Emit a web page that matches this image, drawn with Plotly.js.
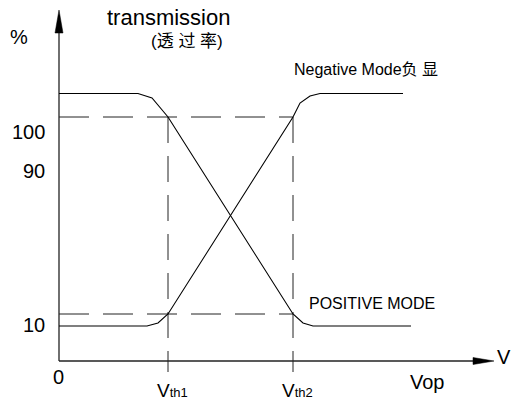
<!DOCTYPE html>
<html><head><meta charset="utf-8">
<script src="https://cdn.plot.ly/plotly-3.0.1.min.js"></script>
<style>html,body{margin:0;padding:0;background:#fff}#chart{width:511px;height:401px}</style>
</head><body><div id="chart"></div>
<script>
// Schematic drawing units: x = operating voltage from origin, y = transmission from the V axis
const negativeModeX = [0, 88, 99, 109, 234, 241, 251, 261, 344];
const negativeModeY = [35, 35, 38, 47, 244, 258, 265, 267.5, 267.5];
const positiveModeX = [0, 79, 93, 109, 234, 244, 254, 352];
const positiveModeY = [267.5, 267.5, 263, 244, 47, 38, 35, 35];
const thresholdX = [109, 234];            // Vth1, Vth2
const thresholdSub = ['th1', 'th2'];
const levelY = [244, 47];                 // 100 % and 10 % reference levels
const yTickVals = [229, 190, 36];
const yTickText = ['100', '90', '10'];

const AX_Y_TOP = 351, AX_Y_BASE = 328, AX_X_TIP = 435, AX_X_BASE = 414;
const DASH_BOTTOM = -11;
const FONT = 'Liberation Sans, Arial, "Noto Sans CJK SC", sans-serif';

const traces = [];
// axes
traces.push({x:[0,0], y:[0,AX_Y_BASE], mode:'lines', line:{color:'#222', width:1.3}, hoverinfo:'skip'});
traces.push({x:[0,AX_X_BASE], y:[0,0], mode:'lines', line:{color:'#222', width:1.3}, hoverinfo:'skip'});
traces.push({x:[-4,0,4,-4], y:[AX_Y_BASE,AX_Y_TOP,AX_Y_BASE,AX_Y_BASE], mode:'lines', fill:'toself', fillcolor:'#000', line:{color:'#000', width:0.5}, hoverinfo:'skip'});
traces.push({x:[AX_X_BASE,AX_X_TIP,AX_X_BASE,AX_X_BASE], y:[3.5,0,-3.5,3.5], mode:'lines', fill:'toself', fillcolor:'#000', line:{color:'#000', width:0.5}, hoverinfo:'skip'});
// reference dashed lines
levelY.forEach(v => traces.push({x:[0, thresholdX[1]], y:[v, v], mode:'lines', line:{color:'#222', width:1, dash:'30px,14px'}, hoverinfo:'skip'}));
thresholdX.forEach(v => traces.push({x:[v, v], y:[levelY[0], DASH_BOTTOM], mode:'lines', line:{color:'#222', width:1, dash:'26px,13px'}, hoverinfo:'skip'}));
// curves
traces.push({x:negativeModeX, y:negativeModeY, mode:'lines', name:'Negative Mode', line:{color:'#000', width:1.1}});
traces.push({x:positiveModeX, y:positiveModeY, mode:'lines', name:'POSITIVE MODE', line:{color:'#000', width:1.1}});

const ann = (x, y, text, size, extra) => Object.assign({x, y, xref:'x', yref:'y', text, showarrow:false, xanchor:'center', yanchor:'middle', font:{family:FONT, size, color:'#000'}}, extra||{});
const annotations = [
  ann(-40, 324, '%', 20),
  ann(109, 344, 'transmission', 22),
  ann(128, 320, '(透 过 率)', 17),
  ann(307, 292, 'Negative Mode负 显', 16),
  ann(313, 58, 'POSITIVE MODE', 16),
  ann(-1, -16, '0', 20),
  ann(445, 4, 'V', 20),
  ann(368, -21, 'Vop', 20),
];
yTickVals.forEach((v, i) => annotations.push(ann(-12, v, yTickText[i], 20, {xanchor:'right'})));
thresholdX.forEach((v, i) => annotations.push(ann(v + 4, -29, 'V<span style="font-size:13px">' + thresholdSub[i] + '</span>', 19)));

const layout = {
  width:511, height:401, margin:{l:0, r:0, t:0, b:0},
  paper_bgcolor:'#fff', plot_bgcolor:'#fff', showlegend:false,
  xaxis:{range:[-59, 452], visible:false, fixedrange:true},
  yaxis:{range:[-40, 361], visible:false, fixedrange:true},
  annotations
};
Plotly.newPlot('chart', traces, layout, {staticPlot:true, displayModeBar:false});
</script></body></html>
